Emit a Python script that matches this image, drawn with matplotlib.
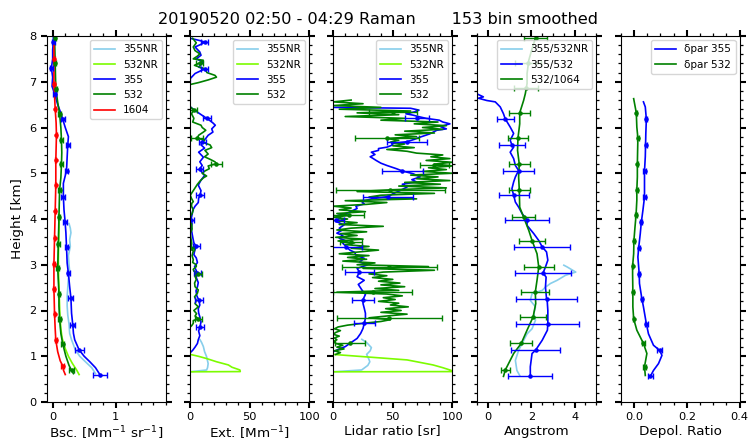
import numpy as np
import matplotlib
matplotlib.use("Agg")
import matplotlib.pyplot as plt
from matplotlib.ticker import MultipleLocator

# ---------------- DATA ----------------
title_txt = "20190520 02:50 - 04:29 Raman       153 bin smoothed"

# Panel 1: backscatter [Mm-1 sr-1]
bsc355_h = [0.60, 0.75, 0.88, 1.00, 1.14, 1.36, 1.50, 1.68, 1.94, 2.27, 2.52, 2.81, 3.04, 3.39, 3.70, 3.98,
            4.20, 4.49, 4.78, 5.06, 5.35, 5.62, 5.80, 6.00, 6.18, 6.35, 6.50, 6.74, 6.90, 7.10, 7.30, 7.50,
            7.70, 7.86, 8.00]
bsc355 = [0.75, 0.68, 0.59, 0.50, 0.42, 0.35, 0.33, 0.32, 0.30, 0.29, 0.27, 0.25, 0.23, 0.22, 0.21, 0.195,
          0.18, 0.17, 0.17, 0.22, 0.23, 0.24, 0.25, 0.20, 0.16, 0.12, 0.08, 0.03, -0.01, 0.00, -0.02, 0.00,
          0.00, 0.01, 0.01]
bsc355_eh = [0.60, 1.14, 1.68, 2.27, 2.81, 3.39, 3.94, 4.49, 5.06, 5.62, 6.18, 6.74, 7.30, 7.86]
bsc355_ev = [0.75, 0.42, 0.32, 0.29, 0.25, 0.22, 0.20, 0.17, 0.22, 0.24, 0.16, 0.03, -0.02, 0.01]
bsc355_ee = [0.11, 0.07, 0.04, 0.04, 0.03, 0.03, 0.03, 0.03, 0.03, 0.03, 0.03, 0.02, 0.02, 0.02]

bsc355nr_h = [0.62, 0.75, 0.88, 1.00, 1.14, 1.36, 1.50, 1.70, 1.90, 2.10, 2.30, 2.50, 2.70, 2.85, 3.00, 3.20,
              3.40, 3.55, 3.70, 3.80, 3.90]
bsc355nr = [0.68, 0.62, 0.52, 0.43, 0.36, 0.30, 0.27, 0.26, 0.24, 0.23, 0.23, 0.24, 0.25, 0.27, 0.26, 0.25,
            0.28, 0.27, 0.29, 0.28, 0.26]

bsc532_h = [0.62, 0.69, 0.80, 1.00, 1.27, 1.50, 1.82, 2.10, 2.37, 2.65, 2.93, 3.20, 3.46, 3.75, 4.04, 4.35,
            4.63, 4.90, 5.20, 5.45, 5.72, 6.00, 6.30, 6.55, 6.85, 7.10, 7.41, 7.70, 7.96]
bsc532 = [0.33, 0.30, 0.26, 0.21, 0.16, 0.13, 0.11, 0.10, 0.10, 0.09, 0.08, 0.085, 0.09, 0.095, 0.10, 0.105,
          0.11, 0.13, 0.14, 0.145, 0.14, 0.13, 0.11, 0.08, 0.05, 0.045, 0.04, 0.035, 0.03]
bsc532_eh = [0.69, 1.27, 1.82, 2.37, 2.93, 3.46, 4.04, 4.63, 5.20, 5.72, 6.30, 6.85, 7.41, 7.96]
bsc532_ev = [0.30, 0.16, 0.11, 0.10, 0.08, 0.09, 0.10, 0.11, 0.14, 0.14, 0.11, 0.05, 0.04, 0.03]
bsc532_ee = [0.04, 0.02, 0.02, 0.02, 0.02, 0.02, 0.02, 0.02, 0.02, 0.02, 0.02, 0.015, 0.015, 0.015]

bsc532nr_h = [0.60, 0.70, 0.85, 1.00, 1.20, 1.40, 1.60, 1.90, 2.30, 2.70, 3.10, 3.50, 3.90, 4.10]
bsc532nr = [0.42, 0.38, 0.31, 0.25, 0.19, 0.15, 0.13, 0.115, 0.105, 0.095, 0.09, 0.095, 0.10, 0.10]

bsc1604_h = [0.60, 0.70, 0.79, 0.90, 1.10, 1.35, 1.60, 1.92, 2.20, 2.48, 3.02, 3.59, 4.17, 4.74, 5.28, 5.83,
             6.10, 6.41, 6.96, 7.50, 7.80]
bsc1604 = [0.20, 0.17, 0.16, 0.12, 0.08, 0.05, 0.04, 0.03, 0.025, 0.02, 0.02, 0.03, 0.04, 0.05, 0.05, 0.06,
           0.055, 0.04, 0.02, 0.02, 0.02]
bsc1604_eh = [0.79, 1.35, 1.92, 2.48, 3.02, 3.59, 4.17, 4.74, 5.28, 5.83, 6.41, 6.96, 7.50]
bsc1604_ev = [0.16, 0.05, 0.03, 0.02, 0.02, 0.03, 0.04, 0.05, 0.05, 0.06, 0.04, 0.02, 0.02]
bsc1604_ee = [0.02, 0.015, 0.01, 0.01, 0.01, 0.01, 0.01, 0.01, 0.01, 0.01, 0.01, 0.01, 0.01]

# Panel 2: extinction [Mm-1]
ext355nr_h = [0.66, 0.70, 0.75, 0.84, 0.99, 1.10, 1.21, 1.30, 1.36]
ext355nr = [0.0, 13.7, 14.5, 15.0, 13.7, 12.0, 11.0, 9.5, 8.2]
ext532nr_h = [0.66, 0.665, 0.70, 0.76, 0.81, 0.88, 0.95, 1.00, 1.04]
ext532nr = [0.0, 42.0, 41.7, 35.0, 32.0, 22.0, 13.7, 6.7, 0.0]
ext355_h = [1.08, 1.13, 1.20, 1.28, 1.36, 1.45, 1.55, 1.65, 1.75, 1.86, 1.95, 2.04, 2.12, 2.22, 2.32, 2.43,
            2.52, 2.61, 2.72, 2.82, 2.90, 2.96, 3.05, 3.15, 3.22, 3.30, 3.40, 3.48, 3.58, 3.68, 3.80, 3.90,
            3.97, 4.10, 4.20, 4.28, 4.36, 4.45, 4.52, 4.62, 4.74, 4.85, 4.95, 5.03, 5.10, 5.17, 5.25, 5.35,
            5.46, 5.55, 5.62, 5.69, 5.76, 5.83, 5.90, 5.97, 6.05, 6.10, 6.16, 6.20, 6.23, 6.30, 6.37, 6.45,
            np.nan,
            7.00, 7.07, 7.18, 7.28, 7.32, 7.43, 7.50, 7.58, 7.65, 7.76, 7.83, 7.87, 7.90, 7.95]
ext355 = [0.0, 2.0, 4.0, 6.0, 6.7, 8.0, 7.0, 8.2, 9.0, 8.0, 7.0, 6.7, 8.0, 7.3, 5.5, 4.8,
          6.0, 6.7, 5.0, 5.9, 4.5, 3.6, 6.0, 5.0, 3.0, 3.6, 5.0, 3.0, 2.2, 1.5, 0.8, 1.5,
          0.5, 1.5, 2.2, 4.0, 6.7, 7.0, 8.2, 9.0, 6.7, 9.0, 12.0, 9.5, 8.0, 10.0, 8.0, 11.0,
          7.0, 12.0, 9.0, 10.0, 13.0, 15.0, 19.0, 18.0, 21.0, 19.0, 16.0, 14.0, 12.0, 8.0, 4.0, 0.0,
          np.nan,
          0.0, 0.0, 4.0, 12.0, 7.0, 11.0, 5.0, 9.0, 8.0, 4.0, 10.0, 12.0, 8.0, 0.0]
ext355_eh = [1.65, 2.22, 2.82, 3.40, 3.97, 4.52, 5.10, 5.69, 6.20, 7.28, 7.87]
ext355_ev = [8.2, 7.3, 5.9, 5.0, 0.5, 8.2, 8.0, 10.0, 14.0, 12.0, 12.0]
ext355_ee = [3.0, 3.0, 3.0, 3.0, 3.0, 3.0, 3.0, 3.0, 3.0, 3.0, 3.0]
ext532_h = [1.64, 1.67, 1.72, 1.78, 1.82, 1.88, 1.93, 2.00, 2.08, 2.15, 2.22, 2.30, 2.38, 2.45, 2.52, 2.60,
            2.68, 2.75, 2.80, 2.86, 2.90, 2.96, 3.00, 3.05, 3.11, 3.20, 3.30, 3.36, 3.47, 3.58, 3.69, 3.78,
            3.87, 3.95, 4.06, 4.12, 4.20, 4.28, 4.34, 4.38, 4.45, 4.52, 4.60, 4.68, 4.76, 4.83, 4.90, 4.94,
            5.00, 5.05, 5.10, 5.16, 5.21, 5.25, 5.30, 5.36, 5.42, 5.50, 5.56, 5.62, 5.68, 5.72, 5.77, 5.83,
            5.90, 5.94, 6.00, 6.05, 6.12, 6.20, 6.30, 6.38, 6.45,
            np.nan,
            6.94, 6.98, 7.04, 7.10, 7.14, 7.20, 7.28, 7.36, 7.41, 7.47, 7.50, 7.56, 7.61, 7.68, 7.76, 7.85, 7.95]
ext532 = [0.0, 1.2, 2.5, 2.5, 6.7, 4.0, 5.3, 3.0, 6.7, 4.0, 5.0, 3.6, 6.0, 6.7, 4.0, 3.6,
          5.0, 4.0, 6.7, 3.0, 2.5, 5.0, 5.0, 2.0, 2.5, 1.5, 2.5, 0.5, 1.2, 0.5, 0.0, 1.5,
          1.2, 0.3, 0.0, 1.5, 2.5, 1.0, 1.2, 2.5, 1.0, 0.0, 2.0, 4.0, 6.0, 8.2, 11.0, 13.7,
          10.0, 12.3, 16.0, 15.0, 22.0, 20.7, 17.0, 12.0, 15.0, 12.3, 18.0, 16.6, 10.0, 12.0, 6.0, 7.0,
          11.0, 13.0, 10.0, 9.0, 2.0, 3.0, 1.0, 3.0, 0.0,
          np.nan,
          0.0, 6.7, 15.0, 22.0, 20.7, 14.0, 12.3, 3.5, 8.0, 10.9, 2.5, 6.0, 8.0, 4.0, 2.5, 5.0, 2.0]
ext532_eh = [1.82, 2.80, 3.36, 5.21, 5.77, 6.38, 7.41]
ext532_ev = [6.7, 6.7, 0.5, 22.0, 6.0, 3.0, 8.0]
ext532_ee = [3.0, 3.0, 3.0, 5.0, 5.0, 3.0, 3.0]

# Panel 3: lidar ratio [sr]
lr355nr_h = [0.66, 0.70, 0.80, 0.88, 0.96, 1.04, 1.12, 1.19, 1.30, 1.37]
lr355nr = [0.0, 23.8, 29.0, 30.7, 29.5, 28.0, 31.0, 32.0, 28.0, 24.0]
lr532nr_h = [0.66, 0.665, 0.70, 0.75, 0.81, 0.87, 0.92, 1.04]
lr532nr = [0.0, 102.0, 98.0, 92.0, 83.8, 72.0, 62.0, 0.0]
lr355_h = [1.10, 1.17, 1.21, 1.30, 1.39, 1.50, 1.61, 1.72, 1.83, 1.94, 2.05, 2.15, 2.24, 2.35, 2.45, 2.57,
           2.66, 2.74, 2.84, 2.92, 3.00, 3.06, 3.14, 3.21, 3.27, 3.32, 3.39, 3.47, 3.53, 3.58, 3.64, 3.69,
           3.75, 3.80, 3.87, 3.95, 3.97, 4.02, 4.08, 4.12, 4.18, 4.23, 4.28, 4.33, 4.38, 4.44, 4.49, 4.55,
           4.62, 4.70, 4.76, 4.81, 4.86, 4.92, 4.99, 5.05, 5.10, 5.17, 5.22, 5.28, 5.33, 5.36, 5.41, 5.46,
           5.50, 5.54, 5.57, 5.62, 5.65, 5.69, 5.74, 5.79, 5.86, 5.94, 5.97, 6.02, 6.08, 6.12, 6.16, 6.20,
           6.23, 6.27, 6.30, 6.34, 6.38, 6.42, 6.44]
lr355 = [0.0, 6.0, 10.0, 15.0, 20.0, 23.0, 25.0, 26.0, 27.0, 27.0, 26.0, 25.0, 25.0, 27.0, 24.0, 21.0,
         26.0, 20.0, 22.0, 20.0, 29.0, 22.0, 26.0, 19.0, 18.0, 14.0, 11.0, 8.0, 10.0, 5.0, 8.0, 3.0,
         7.0, 5.0, 9.0, 2.0, 2.0, 6.0, 4.0, 11.0, 16.0, 20.0, 19.0, 26.0, 24.0, 32.0, 46.0, 50.0,
         56.0, 62.0, 58.0, 70.0, 66.0, 73.0, 67.0, 58.0, 53.0, 45.0, 40.0, 36.0, 33.0, 31.0, 35.0, 32.0,
         38.0, 38.0, 45.0, 50.0, 49.0, 62.0, 68.0, 73.0, 81.0, 87.0, 95.0, 90.0, 98.0, 92.0, 89.0, 78.0,
         73.0, 67.0, 61.0, 68.0, 72.0, 65.0, 0.0]
lr355_eh = [1.72, 2.24, 2.84, 3.39, 3.97, 4.49, 5.05, 5.69, 6.20]
lr355_ev = [26.0, 25.0, 22.0, 11.0, 2.0, 46.0, 58.0, 62.0, 70.0]
lr355_ee = [9.0, 9.0, 12.0, 13.0, 7.0, 21.0, 17.0, 17.0, 10.0]
lr532_start = 1.04
lr532_step = 0.04
lr532 = [2, 6, 1, 9, 3, 8, 2,                                  # 1.04 - 1.28
         0, 3, 1, 5, 0, 2, 6, 1, 4, 12,                        # 1.32 - 1.68
         25, 40, 48, 30,                                       # 1.72 - 1.84
         45, 62, 40, 57, 44, 63, 48, 55, 38, 52, 42, 58, 45,   # 1.88 - 2.36
         3, 55, 35, 60, 40, 56, 38, 50, 33, 45, 30, 42,        # 2.40 - 2.84
         85, 25, 80, 20, 35, 8, 28, 12, 30, 5, 22, 38, 15,    # 2.88 - 3.36
         30, 10, 18, 4, 25, 2, 20, 6, 28, 3, 15, 42, 5,        # 3.40 - 3.88
         20, 2, 12, 0, 14, 3, 27, 5, 15, 0, 28, 45, 10,        # 3.92 - 4.40
         70, 30, 40, 85, 20, 50, 95, 55, 90, 60, 98, 70, 88,   # 4.44 - 4.92
         65, 100, 75, 95, 80, 100, 85, 100, 78, 98, 82, 92,    # 4.96 - 5.40
         70, 62, 45, 68, 50, 60, 48, 55, 45, 70, 52, 85, 60,   # 5.44 - 5.92
         92, 75, 95, 68, 88, 40, 60, 10, 55, 20, 65, 5, 40,    # 5.96 - 6.44
         0, 25, 0, 15]                                         # 6.48 - 6.60
lr532_eh = [1.28, 1.84, 2.41, 2.96, 3.50, 4.08, 4.63, 5.19, 5.76, 6.33]
lr532_ev = [14.0, 47.0, 33.0, 47.0, 15.0, 13.0, 48.0, 85.0, 45.0, 50.0]
lr532_ee = [12.5, 44.0, 33.0, 40.0, 9.0, 13.0, 46.0, 12.0, 27.0, 20.0]

# Panel 4: Angstrom exponent
ang355532nr_h = [0.58, 0.69, 0.91, 1.13, 1.28, 1.49, 1.60, 1.79, 1.93, 2.08, 2.22, 2.37, 2.44, 2.51, 2.59,
                 2.66, 2.77, 2.84, 2.95, 2.99]
ang355532nr = [1.46, 1.33, 1.26, 1.41, 1.57, 1.80, 2.03, 2.19, 2.11, 2.19, 1.95, 2.03, 2.50, 2.65, 2.88,
               3.19, 3.58, 4.05, 3.66, 3.50]
ang355532_h = [0.57, 0.77, 1.06, 1.13, 1.35, 1.57, 1.71, 2.00, 2.22, 2.26, 2.51, 2.73, 2.82, 2.95, 3.10,
               3.28, 3.39, 3.53, 3.68, 3.86, 3.97, 4.12, 4.26, 4.37, 4.52, 4.66, 4.81, 4.92, 5.06, 5.17,
               5.32, 5.46, 5.57, 5.62, 5.72, 5.87, 6.01, 6.19, 6.30, 6.45, 6.56, 6.59, 6.64, 6.67, 6.72, 6.78]
ang355532 = [1.95, 1.95, 2.03, 2.19, 2.50, 2.74, 2.76, 2.76, 2.73, 2.70, 2.65, 2.68, 2.54, 2.65, 2.76,
             2.70, 2.50, 2.34, 2.11, 1.80, 1.80, 1.57, 1.41, 1.26, 1.18, 1.10, 1.18, 1.26, 1.41, 1.26,
             1.18, 1.02, 1.18, 1.10, 1.02, 1.18, 1.02, 0.79, 0.71, 0.56, 0.33, -0.06, -0.45, -0.22, -0.45, -0.70]
ang355532_eh = [0.57, 1.13, 1.71, 2.26, 2.82, 3.39, 3.97, 4.52, 5.06, 5.62, 6.19]
ang355532_ev = [1.95, 2.19, 2.76, 2.70, 2.54, 2.50, 1.80, 1.18, 1.41, 1.10, 0.79]
ang355532_ee = [1.02, 1.12, 1.45, 1.40, 1.30, 1.30, 1.00, 0.70, 0.70, 0.60, 0.40]
ang5321064_h = [0.56, 0.71, 0.77, 1.06, 1.28, 1.57, 1.86, 2.15, 2.40, 2.66, 2.95, 3.24, 3.53, 3.75, 4.04,
                4.26, 4.64, 4.92, 5.20, 5.50, 5.77, 6.08, 6.32, 6.59, 6.74, 6.96, 7.18, 7.47, 7.72, 7.96]
ang5321064 = [0.71, 0.80, 0.87, 1.18, 1.53, 1.80, 2.08, 2.20, 2.18, 2.26, 2.34, 2.26, 2.03, 1.88, 1.64,
              1.46, 1.44, 1.41, 1.44, 1.36, 1.38, 1.46, 1.46, 1.64, 1.72, 1.80, 1.80, 1.88, 2.03, 2.19]
ang5321064_eh = [0.71, 1.28, 1.86, 2.40, 2.95, 3.53, 4.04, 4.64, 5.20, 5.77, 6.32, 6.87, 7.42, 7.96]
ang5321064_ev = [0.80, 1.53, 2.08, 2.18, 2.34, 2.03, 1.64, 1.44, 1.44, 1.38, 1.46, 1.76, 1.86, 2.19]
ang5321064_ee = [0.22, 0.50, 0.60, 0.65, 0.70, 0.62, 0.52, 0.48, 0.48, 0.45, 0.48, 0.55, 0.60, 0.55]

# Panel 5: particle depolarization ratio
dep355_h = [0.56, 0.69, 0.84, 1.02, 1.13, 1.24, 1.49, 1.71, 2.08, 2.26, 2.59, 2.80, 3.17, 3.37, 3.68, 3.93,
            4.19, 4.48, 4.77, 5.05, 5.36, 5.61, 5.87, 6.18, 6.45, 6.56]
dep355 = [0.062, 0.074, 0.093, 0.106, 0.097, 0.074, 0.055, 0.047, 0.036, 0.030, 0.021, 0.020, 0.015, 0.018,
          0.024, 0.028, 0.034, 0.040, 0.040, 0.040, 0.043, 0.044, 0.045, 0.047, 0.043, 0.036]
dep355_eh = [0.56, 1.13, 1.71, 2.26, 2.80, 3.37, 3.93, 4.48, 5.05, 5.61, 6.18]
dep355_ev = [0.062, 0.097, 0.047, 0.030, 0.020, 0.018, 0.028, 0.040, 0.040, 0.044, 0.047]
dep355_ee = [0.010, 0.010, 0.005, 0.004, 0.004, 0.004, 0.004, 0.004, 0.004, 0.004, 0.004]
dep532_h = [0.58, 0.77, 1.06, 1.28, 1.57, 1.82, 2.08, 2.40, 2.80, 2.97, 3.24, 3.53, 3.82, 4.08, 4.41, 4.63,
            4.92, 5.20, 5.50, 5.77, 6.01, 6.32, 6.63]
dep532 = [0.043, 0.040, 0.049, 0.036, 0.011, -0.001, -0.004, -0.004, -0.005, -0.005, -0.001, 0.000, 0.004,
          0.008, 0.011, 0.011, 0.013, 0.013, 0.014, 0.015, 0.011, 0.009, -0.001]
dep532_eh = [0.77, 1.28, 1.82, 2.40, 2.97, 3.53, 4.08, 4.63, 5.20, 5.77, 6.32]
dep532_ev = [0.040, 0.036, -0.001, -0.004, -0.005, 0.000, 0.008, 0.011, 0.013, 0.015, 0.009]
dep532_ee = [0.004, 0.004, 0.003, 0.003, 0.003, 0.003, 0.003, 0.003, 0.003, 0.003, 0.003]

xlabels = ["Bsc. [Mm$^{-1}$ sr$^{-1}$]", "Ext. [Mm$^{-1}$]", "Lidar ratio [sr]", "Angstrom", "Depol. Ratio"]

# ---------------- PLOT ----------------
W, H = 749, 442
fig = plt.figure(figsize=(W / 100, H / 100), dpi=100)
lefts = [47, 190.3, 333.3, 477.3, 620.7]
aw = 119
ab, at = 402, 36
axes = [fig.add_axes([l / W, 1 - ab / H, aw / W, (ab - at) / H]) for l in lefts]

LW = 1.2
EKW = dict(fmt='.', markersize=4.5, capsize=2.5, elinewidth=1.0, capthick=1.0)


def ln(ax, x, y, c, label=None, **kw):
    ax.plot(x, y, color=c, lw=LW, label=label, **kw)


def eb(ax, x, y, e, c):
    ax.errorbar(x, y, xerr=e, color=c, ecolor=c, **EKW)


ax = axes[0]
ln(ax, bsc355nr, bsc355nr_h, 'skyblue', '355NR')
ln(ax, bsc532nr, bsc532nr_h, 'lawngreen', '532NR')
ln(ax, bsc355, bsc355_h, 'blue', '355')
ln(ax, bsc532, bsc532_h, 'green', '532')
ln(ax, bsc1604, bsc1604_h, 'red', '1604')
eb(ax, bsc355_ev, bsc355_eh, bsc355_ee, 'blue')
eb(ax, bsc532_ev, bsc532_eh, bsc532_ee, 'green')
eb(ax, bsc1604_ev, bsc1604_eh, bsc1604_ee, 'red')
ax.set_xlim(-0.09, 1.8)
ax.xaxis.set_major_locator(MultipleLocator(1))
ax.xaxis.set_minor_locator(MultipleLocator(0.2))

ax = axes[1]
ln(ax, ext355nr, ext355nr_h, 'skyblue', '355NR')
ln(ax, ext532nr, ext532nr_h, 'lawngreen', '532NR')
ln(ax, ext355, ext355_h, 'blue', '355')
ln(ax, ext532, ext532_h, 'green', '532')
eb(ax, ext355_ev, ext355_eh, ext355_ee, 'blue')
eb(ax, ext532_ev, ext532_eh, ext532_ee, 'green')
ax.set_xlim(0, 100)
ax.xaxis.set_major_locator(MultipleLocator(50))
ax.xaxis.set_minor_locator(MultipleLocator(10))

ax = axes[2]
lr532_h = [lr532_start + lr532_step * i for i in range(len(lr532))]
ln(ax, lr355nr, lr355nr_h, 'skyblue', '355NR')
ln(ax, lr532nr, lr532nr_h, 'lawngreen', '532NR')
ln(ax, lr355, lr355_h, 'blue', '355')
ln(ax, lr532, lr532_h, 'green', '532')
eb(ax, lr355_ev, lr355_eh, lr355_ee, 'blue')
eb(ax, lr532_ev, lr532_eh, lr532_ee, 'green')
ax.set_xlim(0, 100)
ax.xaxis.set_major_locator(MultipleLocator(50))
ax.xaxis.set_minor_locator(MultipleLocator(10))

ax = axes[3]
ln(ax, ang355532nr, ang355532nr_h, 'skyblue', '355/532NR')
ln(ax, ang355532, ang355532_h, 'blue', '355/532')
ln(ax, ang5321064, ang5321064_h, 'green', '532/1064')
eb(ax, ang355532_ev, ang355532_eh, ang355532_ee, 'blue')
eb(ax, ang5321064_ev, ang5321064_eh, ang5321064_ee, 'green')
ax.set_xlim(-0.5, 5)
ax.xaxis.set_major_locator(MultipleLocator(2))
ax.xaxis.set_minor_locator(MultipleLocator(0.5))

ax = axes[4]
ln(ax, dep355, dep355_h, 'blue', 'δpar 355')
ln(ax, dep532, dep532_h, 'green', 'δpar 532')
eb(ax, dep355_ev, dep355_eh, dep355_ee, 'blue')
eb(ax, dep532_ev, dep532_eh, dep532_ee, 'green')
ax.set_xlim(-0.05, 0.4)
ax.xaxis.set_major_locator(MultipleLocator(0.2))
ax.xaxis.set_minor_locator(MultipleLocator(0.05))

for i, ax in enumerate(axes):
    ax.set_ylim(0, 8)
    ax.yaxis.set_major_locator(MultipleLocator(1))
    ax.yaxis.set_minor_locator(MultipleLocator(0.2))
    ax.tick_params(which='both', direction='out', top=True, right=True, labelsize=8.2)
    ax.tick_params(which='major', length=4, width=1.5)
    ax.tick_params(which='minor', length=2.5, width=0.9)
    ax.set_xlabel(xlabels[i], fontsize=9.7, labelpad=1.5)
    if i > 0:
        ax.tick_params(axis='y', labelleft=False)
    ax.legend(loc='upper right', fontsize=7.5, handlelength=2.0, borderaxespad=0.4)

axes[0].set_ylabel("Height [km]", fontsize=9.7)
fig.text(0.505, 0.955, title_txt, ha='center', va='center', fontsize=11.6)

fig.savefig("out.png", dpi=100)
